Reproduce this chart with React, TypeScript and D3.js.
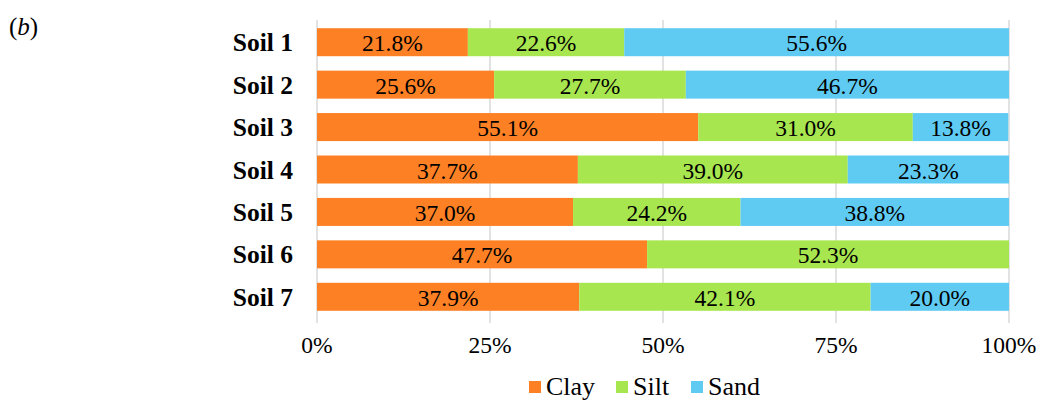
import React from "react";
import * as d3 from "d3";

const soils = ["Soil 1", "Soil 2", "Soil 3", "Soil 4", "Soil 5", "Soil 6", "Soil 7"];
const clay = [21.8, 25.6, 55.1, 37.7, 37.0, 47.7, 37.9];
const silt = [22.6, 27.7, 31.0, 39.0, 24.2, 52.3, 42.1];
const sand = [55.6, 46.7, 13.8, 23.3, 38.8, 0, 20.0];
const seriesNames = ["Clay", "Silt", "Sand"];
const seriesColors = ["#FD8025", "#A8E64F", "#5FCBF2"];
const xTicks = [0, 25, 50, 75, 100];

export default function App() {
  const W = 1040, H = 401;
  const x = d3.scaleLinear().domain([0, 100]).range([317, 1009]);
  const y = d3.scaleBand().domain(soils).range([21, 318]).paddingInner(0.34).paddingOuter(0.17);
  const rows = soils.map((s, i) => ({ soil: s, Clay: clay[i], Silt: silt[i], Sand: sand[i] }));
  const stack = d3.stack<any>().keys(seriesNames)(rows);
  const font = "'Liberation Serif', 'Times New Roman', serif";

  const legendItems = [
    { x: 529, label: "Clay" },
    { x: 616, label: "Silt" },
    { x: 691, label: "Sand" },
  ];

  return (
    <svg width={W} height={H} style={{ position: "absolute", left: 0, top: 0 }} fontFamily={font}>
      <rect width={W} height={H} fill="#fff" />
      <text x={9} y={35} fontSize={25} fill="#000">
        (<tspan fontStyle="italic">b</tspan>)
      </text>
      {xTicks.map((t) => (
        <g key={t}>
          <line x1={x(t)} x2={x(t)} y1={20} y2={323} stroke="#d9d9d9" strokeWidth={1.5} />
          <text x={x(t)} y={353} textAnchor="middle" fontSize={23.5} fill="#000">{t}%</text>
        </g>
      ))}
      {stack.map((layer, si) =>
        layer.map((d, i) => {
          const v = d[1] - d[0];
          if (v <= 0) return null;
          const y0 = y(soils[i])!;
          return (
            <g key={`${si}-${i}`}>
              <rect x={x(d[0])} y={y0} width={x(d[1]) - x(d[0])} height={y.bandwidth()} fill={seriesColors[si]} />
              <text x={(x(d[0]) + x(d[1])) / 2} y={y0 + y.bandwidth() / 2 + 9} textAnchor="middle" fontSize={23.5} fill="#000">
                {v.toFixed(1)}%
              </text>
            </g>
          );
        })
      )}
      {soils.map((s) => (
        <text key={s} x={293} y={y(s)! + y.bandwidth() / 2 + 9} textAnchor="end" fontSize={25.5} fontWeight="bold" fill="#000">
          {s}
        </text>
      ))}
      {legendItems.map((l, i) => (
        <g key={l.label}>
          <rect x={l.x} y={381} width={12} height={12} fill={seriesColors[i]} />
          <text x={l.x + 17} y={395} fontSize={26} fill="#000">{l.label}</text>
        </g>
      ))}
    </svg>
  );
}
